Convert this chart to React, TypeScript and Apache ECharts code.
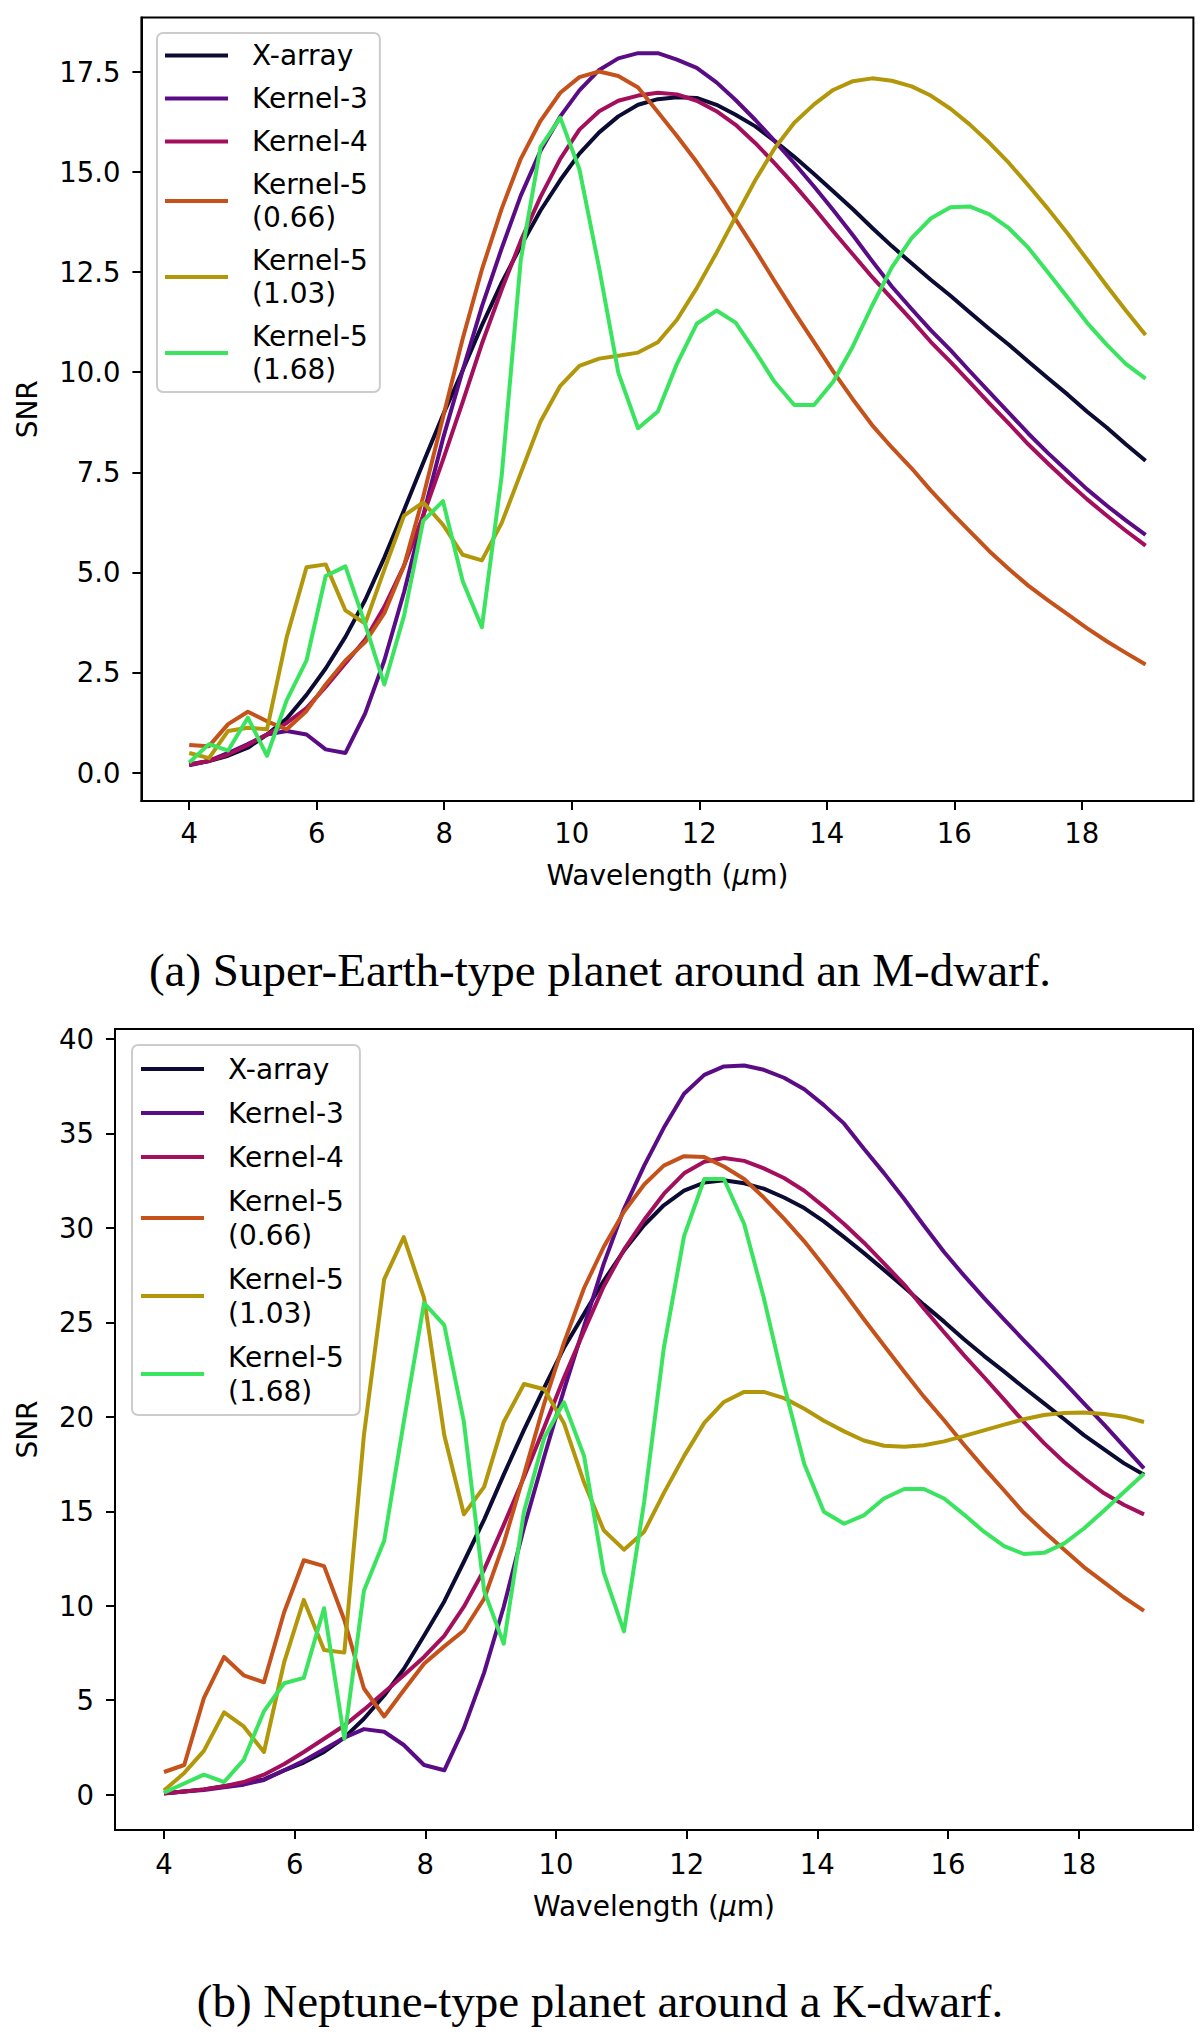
import React, { useEffect, useRef } from 'react';
import * as echarts from 'echarts';

// wavelength grid (µm), 50 samples from 4 to 19
const wavelength = [
  4.00, 4.31, 4.61, 4.92, 5.22, 5.53, 5.84, 6.14, 6.45, 6.76,
  7.06, 7.37, 7.67, 7.98, 8.29, 8.59, 8.90, 9.20, 9.51, 9.82,
  10.12, 10.43, 10.73, 11.04, 11.35, 11.65, 11.96, 12.27, 12.57, 12.88,
  13.18, 13.49, 13.80, 14.10, 14.41, 14.71, 15.02, 15.33, 15.63, 15.94,
  16.24, 16.55, 16.86, 17.16, 17.47, 17.78, 18.08, 18.39, 18.69, 19.00,
];

const seriesNames = ['X-array', 'Kernel-3', 'Kernel-4', 'Kernel-5\n(0.66)', 'Kernel-5\n(1.03)', 'Kernel-5\n(1.68)'];
const seriesColors = ['#0b0b33', '#5a0c86', '#a30f5c', '#c4521a', '#b3970a', '#3be45f'];

// (a) Super-Earth around an M-dwarf
const superEarthXArray = [
  0.20, 0.29, 0.42, 0.62, 0.95, 1.35, 1.94, 2.60, 3.39, 4.31,
  5.37, 6.56, 7.74, 8.93, 10.05, 11.17, 12.23, 13.15, 14.04, 14.80,
  15.46, 15.99, 16.39, 16.68, 16.82, 16.87, 16.85, 16.68, 16.43, 16.14,
  15.78, 15.38, 14.95, 14.52, 14.07, 13.61, 13.15, 12.72, 12.31, 11.91,
  11.50, 11.08, 10.68, 10.27, 9.85, 9.44, 9.02, 8.62, 8.20, 7.79,
];
const superEarthK3 = [
  0.18, 0.29, 0.49, 0.71, 0.95, 1.04, 0.95, 0.58, 0.49, 1.48,
  2.80, 4.51, 6.42, 8.34, 10.05, 11.64, 13.09, 14.41, 15.53, 16.39,
  17.04, 17.55, 17.84, 17.97, 17.97, 17.81, 17.60, 17.24, 16.80, 16.30,
  15.78, 15.22, 14.64, 14.05, 13.42, 12.78, 12.14, 11.58, 11.05, 10.55,
  10.03, 9.50, 8.98, 8.47, 7.98, 7.52, 7.08, 6.67, 6.30, 5.94,
];
const superEarthK4 = [
  0.20, 0.29, 0.45, 0.69, 0.95, 1.24, 1.61, 2.14, 2.73, 3.32,
  4.14, 5.17, 6.42, 7.81, 9.26, 10.71, 12.06, 13.28, 14.38, 15.33,
  16.06, 16.52, 16.78, 16.91, 16.98, 16.94, 16.78, 16.52, 16.18, 15.72,
  15.22, 14.68, 14.10, 13.52, 12.94, 12.38, 11.84, 11.30, 10.76, 10.26,
  9.75, 9.22, 8.71, 8.20, 7.72, 7.26, 6.83, 6.42, 6.04, 5.67,
];
const superEarthK5a = [
  0.69, 0.66, 1.21, 1.52, 1.28, 1.08, 1.54, 2.20, 2.80, 3.26,
  3.98, 5.17, 6.89, 8.87, 10.84, 12.56, 14.08, 15.33, 16.28, 16.98,
  17.37, 17.51, 17.40, 17.11, 16.50, 15.90, 15.25, 14.55, 13.82, 13.05,
  12.28, 11.50, 10.75, 10.02, 9.32, 8.68, 8.12, 7.60, 7.05, 6.52,
  6.03, 5.53, 5.08, 4.67, 4.30, 3.95, 3.61, 3.28, 2.99, 2.70,
];
const superEarthK5b = [
  0.49, 0.36, 1.04, 1.12, 1.08, 3.39, 5.13, 5.20, 4.05, 3.72,
  5.07, 6.42, 6.75, 6.19, 5.44, 5.30, 6.23, 7.48, 8.77, 9.66,
  10.16, 10.34, 10.41, 10.49, 10.75, 11.31, 12.10, 12.98, 13.88, 14.80,
  15.59, 16.23, 16.69, 17.05, 17.27, 17.34, 17.28, 17.14, 16.91, 16.58,
  16.19, 15.73, 15.22, 14.67, 14.08, 13.46, 12.82, 12.16, 11.54, 10.93,
];
const superEarthK5c = [
  0.25, 0.71, 0.55, 1.37, 0.42, 1.81, 2.80, 4.91, 5.15, 3.70,
  2.20, 3.92, 6.29, 6.78, 4.78, 3.63, 7.40, 12.80, 15.62, 16.36,
  15.07, 12.60, 9.99, 8.60, 9.02, 10.21, 11.21, 11.54, 11.24, 10.51,
  9.76, 9.18, 9.18, 9.76, 10.65, 11.66, 12.62, 13.35, 13.84, 14.12,
  14.14, 13.94, 13.59, 13.11, 12.49, 11.86, 11.24, 10.69, 10.21, 9.84,
];

// (b) Neptune around a K-dwarf
const neptuneXArray = [
  0.08, 0.17, 0.28, 0.45, 0.59, 0.81, 1.29, 1.70, 2.26, 3.02,
  4.02, 5.25, 6.65, 8.41, 10.23, 12.33, 14.56, 16.94, 19.31, 21.55,
  23.64, 25.45, 27.20, 28.80, 30.15, 31.20, 31.97, 32.40, 32.52, 32.36,
  32.08, 31.61, 31.05, 30.35, 29.51, 28.68, 27.78, 26.86, 25.94, 25.04,
  24.12, 23.23, 22.39, 21.55, 20.71, 19.87, 19.03, 18.28, 17.55, 16.94,
];
const neptuneK3 = [
  0.06, 0.17, 0.25, 0.39, 0.53, 0.78, 1.29, 1.79, 2.40, 3.02,
  3.47, 3.33, 2.63, 1.57, 1.29, 3.52, 6.46, 9.95, 14.14, 17.90,
  21.40, 24.80, 28.10, 31.00, 33.30, 35.30, 37.10, 38.10, 38.55, 38.60,
  38.37, 37.95, 37.34, 36.50, 35.52, 34.20, 32.90, 31.53, 30.13, 28.73,
  27.50, 26.30, 25.15, 24.05, 22.95, 21.83, 20.71, 19.59, 18.45, 17.27,
];
const neptuneK4 = [
  0.08, 0.17, 0.28, 0.45, 0.67, 1.06, 1.62, 2.26, 2.96, 3.66,
  4.50, 5.42, 6.32, 7.29, 8.41, 9.95, 11.91, 14.28, 16.80, 19.45,
  22.05, 24.55, 26.90, 28.85, 30.43, 31.80, 32.89, 33.50, 33.70, 33.55,
  33.15, 32.64, 31.97, 31.13, 30.21, 29.23, 28.12, 27.00, 25.74, 24.48,
  23.28, 22.11, 20.91, 19.73, 18.61, 17.60, 16.75, 15.95, 15.35, 14.84,
];
const neptuneK5a = [
  1.20, 1.57, 5.11, 7.29, 6.32, 5.95, 9.67, 12.41, 12.10, 9.25,
  5.62, 4.14, 5.53, 6.93, 7.85, 8.69, 10.37, 13.30, 16.94, 20.71,
  23.90, 26.82, 28.99, 30.86, 32.30, 33.30, 33.80, 33.75, 33.25, 32.59,
  31.61, 30.49, 29.29, 27.98, 26.58, 25.18, 23.78, 22.39, 21.07, 19.82,
  18.55, 17.30, 16.10, 14.92, 13.92, 12.97, 12.05, 11.24, 10.45, 9.73,
];
const neptuneK5b = [
  0.22, 1.15, 2.32, 4.36, 3.61, 2.26, 7.02, 10.31, 7.66, 7.52,
  19.03, 27.28, 29.51, 26.30, 19.03, 14.84, 16.29, 19.73, 21.74, 21.46,
  19.68, 16.52, 14.00, 12.97, 13.92, 15.96, 17.92, 19.68, 20.79, 21.32,
  21.32, 20.99, 20.43, 19.79, 19.23, 18.75, 18.47, 18.42, 18.50, 18.70,
  18.98, 19.28, 19.59, 19.87, 20.10, 20.21, 20.23, 20.15, 20.01, 19.73,
];
const neptuneK5c = [
  0.11, 0.59, 1.06, 0.67, 1.84, 4.42, 5.90, 6.18, 9.87, 2.96,
  10.79, 13.44, 19.73, 26.02, 24.85, 19.73, 10.79, 7.99, 14.98, 18.89,
  20.77, 17.92, 11.77, 8.64, 15.50, 23.64, 29.57, 32.59, 32.59, 30.21,
  26.30, 21.69, 17.50, 14.98, 14.34, 14.78, 15.68, 16.18, 16.18, 15.68,
  14.84, 13.92, 13.16, 12.74, 12.80, 13.30, 14.09, 15.04, 16.01, 16.99,
];

const xTicks = [4, 6, 8, 10, 12, 14, 16, 18];
const superEarthYTicks = [0, 2.5, 5, 7.5, 10, 12.5, 15, 17.5];
const neptuneYTicks = [0, 5, 10, 15, 20, 25, 30, 35, 40];

const captions = [
  '(a) Super-Earth-type planet around an M-dwarf.',
  '(b) Neptune-type planet around a K-dwarf.',
];

const FONT = 'DejaVu Sans';

function xAxisFor(gridIndex: number, labelMargin: number, nameGap: number) {
  return {
    type: 'value',
    gridIndex,
    min: 3.25,
    max: 19.75,
    axisLine: { show: true, onZero: false, lineStyle: { color: '#000', width: 2 } },
    axisTick: { show: true, inside: false, length: 9, lineStyle: { color: '#000', width: 2 }, customValues: xTicks },
    axisLabel: { show: true, customValues: xTicks, margin: labelMargin, fontSize: 27.5, color: '#000', fontFamily: FONT },
    splitLine: { show: false },
    name: 'Wavelength ({i|μ}m)',
    nameLocation: 'middle',
    nameGap,
    nameTextStyle: {
      fontSize: 28, color: '#000', fontFamily: FONT,
      rich: { i: { fontSize: 28, fontStyle: 'italic', fontFamily: FONT, color: '#000' } },
    },
  };
}

function yAxisFor(gridIndex: number, min: number, max: number, ticks: number[], digits: number, nameGap: number) {
  return {
    type: 'value',
    gridIndex,
    min,
    max,
    axisLine: { show: true, onZero: false, lineStyle: { color: '#000', width: 2 } },
    axisTick: { show: true, inside: false, length: 9, lineStyle: { color: '#000', width: 2 }, customValues: ticks },
    axisLabel: {
      show: true, customValues: ticks, margin: 21, fontSize: 27.5, color: '#000', fontFamily: FONT,
      formatter: (v: number) => v.toFixed(digits),
    },
    splitLine: { show: false },
    name: 'SNR',
    nameLocation: 'middle',
    nameGap,
    nameTextStyle: { fontSize: 28, color: '#000', fontFamily: FONT },
  };
}

function legendFor(left: number, top: number, lineHeight: number, padding: number[]) {
  return {
    data: seriesNames,
    orient: 'vertical',
    left,
    top,
    icon: 'rect',
    itemWidth: 63,
    itemHeight: 4,
    itemGap: 10,
    padding,
    backgroundColor: 'rgba(255,255,255,0.8)',
    borderColor: '#cccccc',
    borderWidth: 2,
    borderRadius: 6,
    selectedMode: false,
    textStyle: { fontSize: 28, lineHeight, color: '#000', fontFamily: FONT, padding: [0, 0, 0, 19] },
  };
}

function panelSeries(values: number[][], axisIndex: number) {
  return values.map((vals, k) => ({
    type: 'line',
    name: seriesNames[k],
    xAxisIndex: axisIndex,
    yAxisIndex: axisIndex,
    data: wavelength.map((w, i) => [w, vals[i]]),
    symbol: 'none',
    clip: true,
    lineStyle: { width: 4, color: seriesColors[k], join: 'round' },
    itemStyle: { color: seriesColors[k] },
  }));
}

export default function App() {
  const ref = useRef<HTMLDivElement>(null);
  useEffect(() => {
    if (!ref.current) return;
    const chart = echarts.init(ref.current, null, { renderer: 'svg' });
    const superEarth = [superEarthXArray, superEarthK3, superEarthK4, superEarthK5a, superEarthK5b, superEarthK5c];
    const neptune = [neptuneXArray, neptuneK3, neptuneK4, neptuneK5a, neptuneK5b, neptuneK5c];
    chart.setOption({
      animation: false,
      backgroundColor: '#fff',
      grid: [
        { left: 141.4, top: 17.5, width: 1052, height: 783.5, show: true, borderColor: '#000', borderWidth: 2 },
        { left: 115, top: 1029, width: 1078, height: 801, show: true, borderColor: '#000', borderWidth: 2 },
      ],
      xAxis: [xAxisFor(0, 18, 60), xAxisFor(1, 20, 62)],
      yAxis: [
        yAxisFor(0, -0.71, 18.86, superEarthYTicks, 1, 100),
        yAxisFor(1, -1.87, 40.53, neptuneYTicks, 0, 74),
      ],
      legend: [
        legendFor(157, 33, 33, [6, 12, 6, 8]),
        legendFor(132, 1045, 34, [7, 16, 7, 9]),
      ],
      series: [...panelSeries(superEarth, 0), ...panelSeries(neptune, 1)],
      graphic: [
        {
          type: 'text', left: 'center', top: 946,
          style: { text: captions[0], fontSize: 47, fontFamily: 'Liberation Serif', fill: '#000' },
        },
        {
          type: 'text', left: 'center', top: 1977,
          style: { text: captions[1], fontSize: 47, fontFamily: 'Liberation Serif', fill: '#000' },
        },
      ],
    });
    return () => { chart.dispose(); };
  }, []);
  return (
    <div
      ref={ref}
      style={{ position: 'absolute', left: 0, top: 0, width: 1200, height: 2041, background: '#fff' }}
    />
  );
}
